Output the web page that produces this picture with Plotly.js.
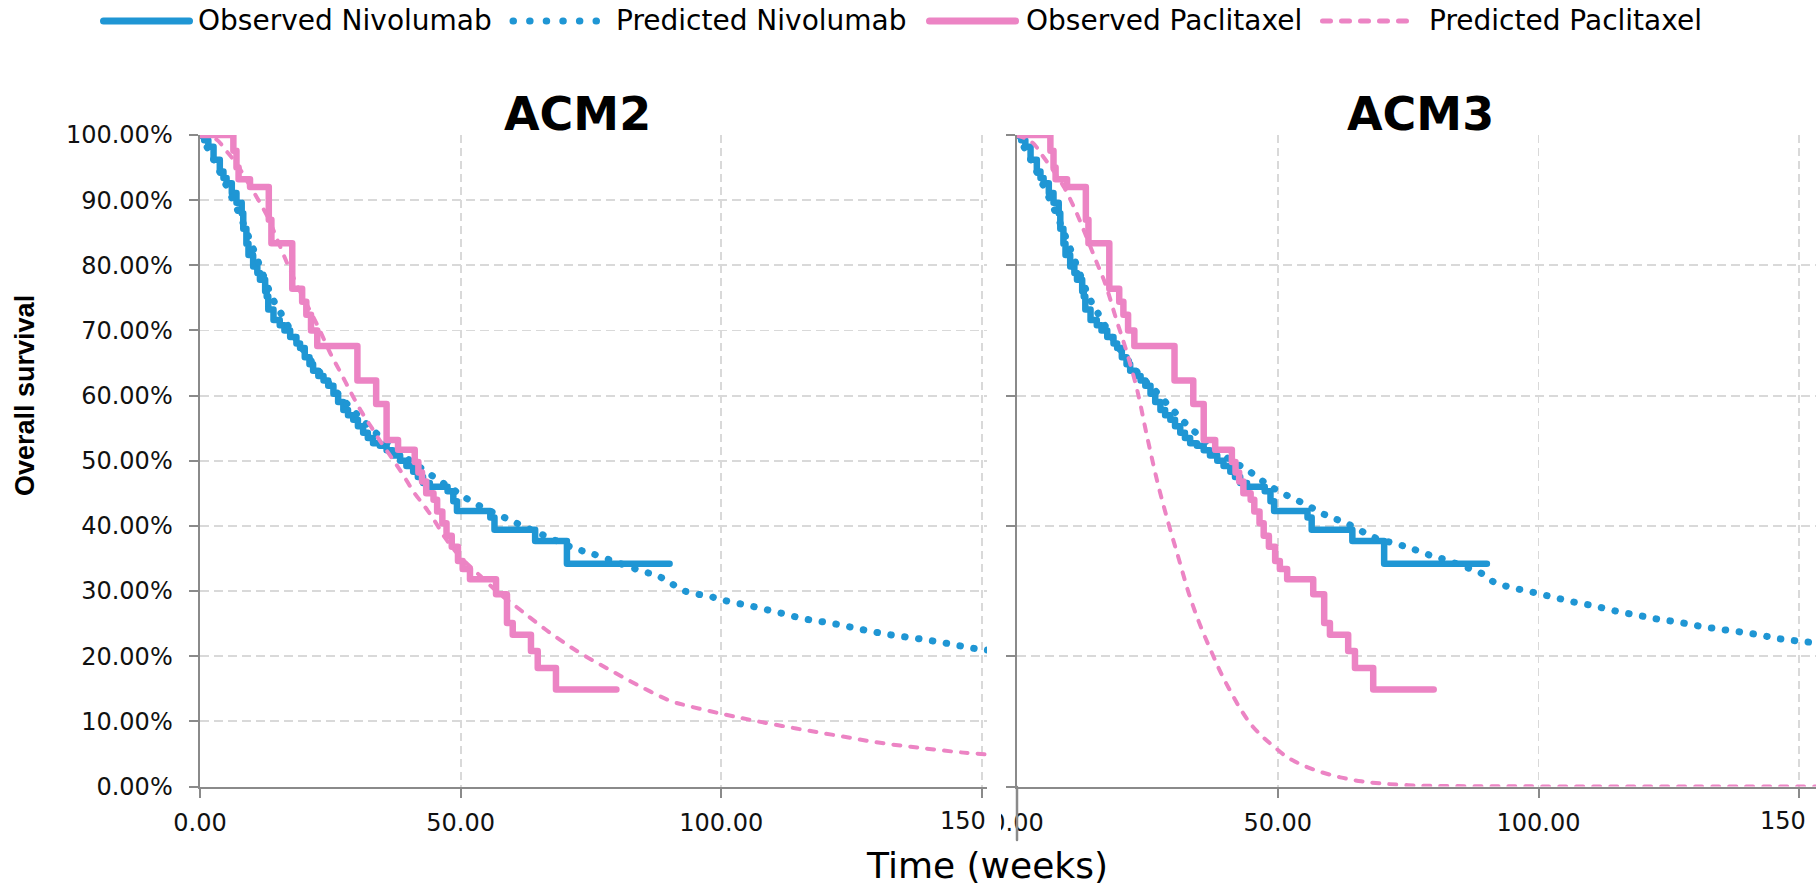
<!DOCTYPE html>
<html>
<head>
<meta charset="utf-8">
<script src="https://cdn.plot.ly/plotly-3.0.1.min.js"></script>
<style>
html,body{margin:0;padding:0;background:#fff;}
#chart{width:1816px;height:887px;}
.scatterlayer path.js-line{stroke-linecap:round;stroke-linejoin:round;}
.shapelayer path{stroke-linecap:round;}
</style>
</head>
<body>
<div id="chart"></div>
<script>
// ---------------- DATA ----------------
const panelTitles = ['ACM2', 'ACM3'];
const seriesNames = ['Observed Nivolumab', 'Predicted Nivolumab', 'Observed Paclitaxel', 'Predicted Paclitaxel'];

// Observed Kaplan-Meier, Nivolumab (weeks, % surviving) - same in both panels
const obsNivoT = [0,0.8,1.6,2.6,3.8,4.5,5.1,6.1,7.0,8.0,8.3,8.9,9.3,10.2,11.0,11.5,12.5,12.8,13.1,14.1,15.3,16.2,17.3,18.5,19.2,20.1,21.0,21.7,22.7,23.7,24.6,25.6,26.5,27.5,28.4,29.4,30.3,31.3,32.2,33.2,34.5,35.8,37.0,38.4,39.6,40.9,41.8,42.8,44.1,47.5,48.6,49.3,55.7,56.5,64.3,70.4,90.1];
const obsNivoS = [100,99.2,98.2,96.2,94.4,93.4,92.6,91.1,89.6,88.0,85.6,83.3,81.6,79.8,78.8,77.8,76.0,75.2,73.2,71.6,70.8,70.0,69.0,68.0,67.3,65.9,64.8,63.8,63.0,62.3,61.5,60.3,59.0,57.8,57.0,56.3,55.3,54.3,53.5,52.7,52.3,51.6,50.8,50.0,49.2,48.3,47.5,46.6,46.0,45.3,43.8,42.3,41.3,39.4,37.7,34.2,34.2];

// Observed Kaplan-Meier, Paclitaxel
const obsPacT = [0,6.4,7.0,7.4,9.6,13.2,13.7,17.7,19.6,20.4,21.3,22.5,30.2,33.8,35.8,38.0,41.2,41.9,42.6,43.4,44.8,45.5,46.5,47.3,48.3,49.5,50.4,51.8,56.8,58.9,60.0,63.5,64.8,68.3,79.9];
const obsPacS = [100,97.6,95.0,93.2,92.0,87.0,83.4,76.4,74.4,72.4,70.0,67.6,62.3,58.7,53.2,51.7,49.8,48.2,46.8,45.0,44.0,42.2,40.4,38.5,36.8,34.6,33.4,31.8,29.5,25.1,23.3,20.8,18.2,14.9,14.9];

// Predicted Nivolumab, ACM2
const predNivoT2 = [0,2,4,6,8,10,12,14,16,18,20,22,24,26,28,30,32,34,36,38,40,42,44,46,48,50,52,55,57,60,63,67,72,75,80,85,87.6,90,92.4,95,97.7,100.4,105.7,111,116.2,121.6,127,132.3,137.7,143.1,148.5,151.5];
const predNivoS2 = [100,97.2,94.0,90.6,87.0,83.0,78.8,74.8,72.0,69.2,66.8,64.6,62.6,60.7,58.9,57.2,55.6,54.1,52.7,51.4,50.2,49.1,48.0,46.9,45.9,44.8,43.8,42.5,41.8,40.7,39.6,38.2,36.5,35.8,34.4,33.0,32.4,31.4,30.2,29.6,29.2,28.6,27.7,26.7,25.7,25.0,24.1,23.3,22.7,22.0,21.2,20.9];

// Predicted Nivolumab, ACM3
const predNivoT3 = [0,2,4,6,8,10,12,14,16,18,20,22,24,26,28,30,32,34,36,38,40,42,44,46,48,50,53,55.8,58.3,60,63.4,68.6,73.4,76.1,78.8,81.4,86.6,89.1,91.4,94.0,96.7,99.5,102.1,104.7,107.4,110.2,112.8,115.5,118.2,120.9,123.5,126.3,129,131.7,134.3,137,139.8,142.5,145.2,147.9,151.3,154];
const predNivoS3 = [100,97.2,94.0,90.6,87.0,83.0,78.8,74.8,72.0,69.2,66.8,64.7,62.7,61.2,59.4,57.7,56.0,54.5,53.1,51.8,50.6,49.6,48.7,47.5,46.4,45.4,44.2,43.1,42.0,41.4,40.3,38.2,37.1,36.4,35.6,35.0,33.5,32.7,31.4,30.7,30.2,29.7,29.2,28.7,28.2,27.8,27.3,26.8,26.4,26.0,25.6,25.3,24.9,24.5,24.2,23.9,23.6,23.25,22.8,22.5,22.2,22.0];

// Predicted Paclitaxel, ACM2
const predPacT2 = [0,3,5,7,9,11,13,15,17,19,21,23,25,27,29,31,33,35,37,39,41,43,45,47,50,53.8,57.3,61.3,66.3,72.3,78.4,84.4,90.4,94,100.4,106.4,114.4,122.4,130.5,138.5,146.5,151.5];
const predPacS2 = [100,99.4,97.6,95.6,93.0,90.3,87.4,83.6,79.8,76.3,73.2,70.0,66.5,63.5,60.4,57.5,55.0,52.5,50.2,47.8,45.2,43.1,40.8,38.2,35.2,32.3,29.7,27.2,24.1,20.8,18.0,15.4,13.1,12.3,11.1,10.1,8.9,7.8,6.7,5.9,5.2,4.9];

// Predicted Paclitaxel, ACM3
const predPacT3 = [0,3,5,7,9,11,13,15,17,19,21,23,25,27,29,31,33,35,37,39,41,43,45,47,49,52,55,58,62,66,70,75,80,90,100,120,154];
const predPacS3 = [100,98.8,96.7,94.5,92.0,88.8,85.0,81.0,77.0,71.8,66.8,61.0,53.5,46.5,40.5,35.0,29.5,25.0,21.2,17.6,14.5,11.7,9.4,7.7,6.3,4.4,3.2,2.3,1.4,0.8,0.45,0.2,0.1,0.04,0.02,0,0];

// Tick values / labels (the "150" labels are cut by the image edges in the source,
// so they are placed as separate texts)
const xTickVals = [0, 50, 100, 150];
const xTickText = ['0.00', '50.00', '100.00', ''];
const xEdgeLabel = '150';
const yTickValsLeft = [0, 0.1, 0.2, 0.3, 0.4, 0.5, 0.6, 0.7, 0.8, 0.9, 1.0];
const yTickTextLeft = ['0.00%', '10.00%', '20.00%', '30.00%', '40.00%', '50.00%', '60.00%', '70.00%', '80.00%', '90.00%', '100.00%'];
const yTickValsRight = [0, 0.2, 0.4, 0.6, 0.8, 1.0];

// ---------------- STYLE ----------------
const W = 1816, H = 887;
const px = x => x / W, py = y => 1 - y / H;
const BLUE = '#1F96D4', PINK = '#EC84C4';
const AXIS = '#8a8a8a', GRID = '#D9D9D9', TXT = '#111111';
const FONT = 'DejaVu Sans, Verdana, sans-serif';

function tr(t, s, xa, ya, color, width, dash, shape, name) {
  return {
    type: 'scatter', mode: 'lines', x: t, y: s.map(v => v / 100),
    xaxis: xa, yaxis: ya, name: name, showlegend: false, hoverinfo: 'skip',
    line: {color: color, width: width, dash: dash, shape: shape}
  };
}

const DOT = '0.5px,13.5px';
const DASH = '7px,10px';

const data = [
  tr(obsNivoT, obsNivoS, 'x', 'y', BLUE, 6.5, 'solid', 'hv', seriesNames[0]),
  tr(predNivoT2, predNivoS2, 'x', 'y', BLUE, 7, DOT, 'spline', seriesNames[1]),
  tr(obsPacT, obsPacS, 'x', 'y', PINK, 6.5, 'solid', 'hv', seriesNames[2]),
  tr(predPacT2, predPacS2, 'x', 'y', PINK, 4, DASH, 'spline', seriesNames[3]),
  tr(obsNivoT, obsNivoS, 'x2', 'y2', BLUE, 6.5, 'solid', 'hv', seriesNames[0]),
  tr(predNivoT3, predNivoS3, 'x2', 'y2', BLUE, 7, DOT, 'spline', seriesNames[1]),
  tr(obsPacT, obsPacS, 'x2', 'y2', PINK, 6.5, 'solid', 'hv', seriesNames[2]),
  tr(predPacT3, predPacS3, 'x2', 'y2', PINK, 4, DASH, 'spline', seriesNames[3])
];

const yDom = [py(786.5), py(135)];
const common = {
  ticks: 'outside', ticklen: 9, tickwidth: 2, tickcolor: AXIS,
  showline: true, linecolor: AXIS, linewidth: 2.5,
  showgrid: true, gridcolor: GRID, gridwidth: 1.8,
  zeroline: false, layer: 'below traces', fixedrange: true,
  tickfont: {family: FONT, size: 24, color: TXT}
};

const layout = {
  width: W, height: H, margin: {l: 0, r: 0, t: 0, b: 0},
  paper_bgcolor: '#fff', plot_bgcolor: '#fff', showlegend: false,
  xaxis: Object.assign({}, common, {
    domain: [px(200), px(987)], range: [0, 151], anchor: 'y',
    tickmode: 'array', tickvals: xTickVals, ticktext: xTickText,
    griddash: '8px,5px', ticklabelstandoff: 4
  }),
  yaxis: Object.assign({}, common, {
    domain: yDom, range: [0, 1], anchor: 'x',
    tickmode: 'array', tickvals: yTickValsLeft, ticktext: yTickTextLeft,
    griddash: '9px,5px', ticklabelstandoff: 11
  }),
  xaxis2: Object.assign({}, common, {
    domain: [px(1017), 1], range: [0, 153.2], anchor: 'y2',
    tickmode: 'array', tickvals: xTickVals, ticktext: xTickText,
    griddash: '8px,5px', ticklabelstandoff: 4
  }),
  yaxis2: Object.assign({}, common, {
    domain: yDom, range: [0, 1], anchor: 'x2',
    tickmode: 'array', tickvals: yTickValsRight, showticklabels: false,
    griddash: '9px,5px'
  }),
  annotations: [],
  shapes: []
};

const ann = (text, x, y, opts) => Object.assign({
  text: text, x: x, y: y, xref: 'paper', yref: 'paper', showarrow: false,
  xanchor: 'center', yanchor: 'middle', font: {family: FONT, size: 24, color: '#000'}
}, opts || {});

layout.annotations.push(ann(panelTitles[0], px(577), py(114), {font: {family: FONT, size: 46, color: '#000', weight: 'bold'}}));
layout.annotations.push(ann(panelTitles[1], px(1420), py(114), {font: {family: FONT, size: 46, color: '#000', weight: 'bold'}}));
layout.annotations.push(ann('Overall survival', px(25), py(396), {textangle: -90, font: {family: 'Liberation Sans, Arial, sans-serif', size: 27, color: '#000', weight: 'bold'}}));
layout.annotations.push(ann('Time (weeks)', px(987), 0, {yanchor: 'bottom', borderpad: 0, font: {family: FONT, size: 36, color: '#000'}}));
// "150" labels cut by the chart edges
layout.annotations.push(ann(xEdgeLabel, px(988), py(821), {xanchor: 'right', font: {family: FONT, size: 24, color: TXT}}));
layout.annotations.push(ann(xEdgeLabel, px(1808), py(821), {xanchor: 'right', font: {family: FONT, size: 24, color: TXT}}));

// custom legend
const legY = py(21);
const legTextX = [196, 614, 1024, 1427];
const legSamples = [
  {x0: 103.5, x1: 189.5, color: BLUE, width: 7, dash: 'solid'},
  {x0: 513, x1: 597, color: BLUE, width: 7, dash: '0.5px,16.1px'},
  {x0: 929.5, x1: 1015.5, color: PINK, width: 7, dash: 'solid'},
  {x0: 1322.5, x1: 1406.5, color: PINK, width: 5, dash: '8px,11px'}
];
legSamples.forEach((s, i) => {
  layout.shapes.push({type: 'line', xref: 'paper', yref: 'paper', layer: 'above',
    x0: px(s.x0), x1: px(s.x1), y0: legY, y1: legY,
    line: {color: s.color, width: s.width, dash: s.dash}});
  layout.annotations.push(ann(seriesNames[i], px(legTextX[i]), legY,
    {xanchor: 'left', font: {family: FONT, size: 28, color: '#000'}}));
});

// gap between the two chart images (crops the right "0.00" like the source)
layout.shapes.push({type: 'rect', xref: 'paper', yref: 'paper', layer: 'above',
  x0: px(987.5), x1: px(1001), y0: py(848), y1: py(789),
  fillcolor: '#fff', line: {width: 0}});
// vertical edge line of the right chart below its axis
layout.shapes.push({type: 'line', xref: 'paper', yref: 'paper', layer: 'above',
  x0: px(1017), x1: px(1017), y0: py(787), y1: py(840),
  line: {color: AXIS, width: 2.5}});

Plotly.newPlot('chart', data, layout, {displayModeBar: false, staticPlot: true});
</script>
</body>
</html>
